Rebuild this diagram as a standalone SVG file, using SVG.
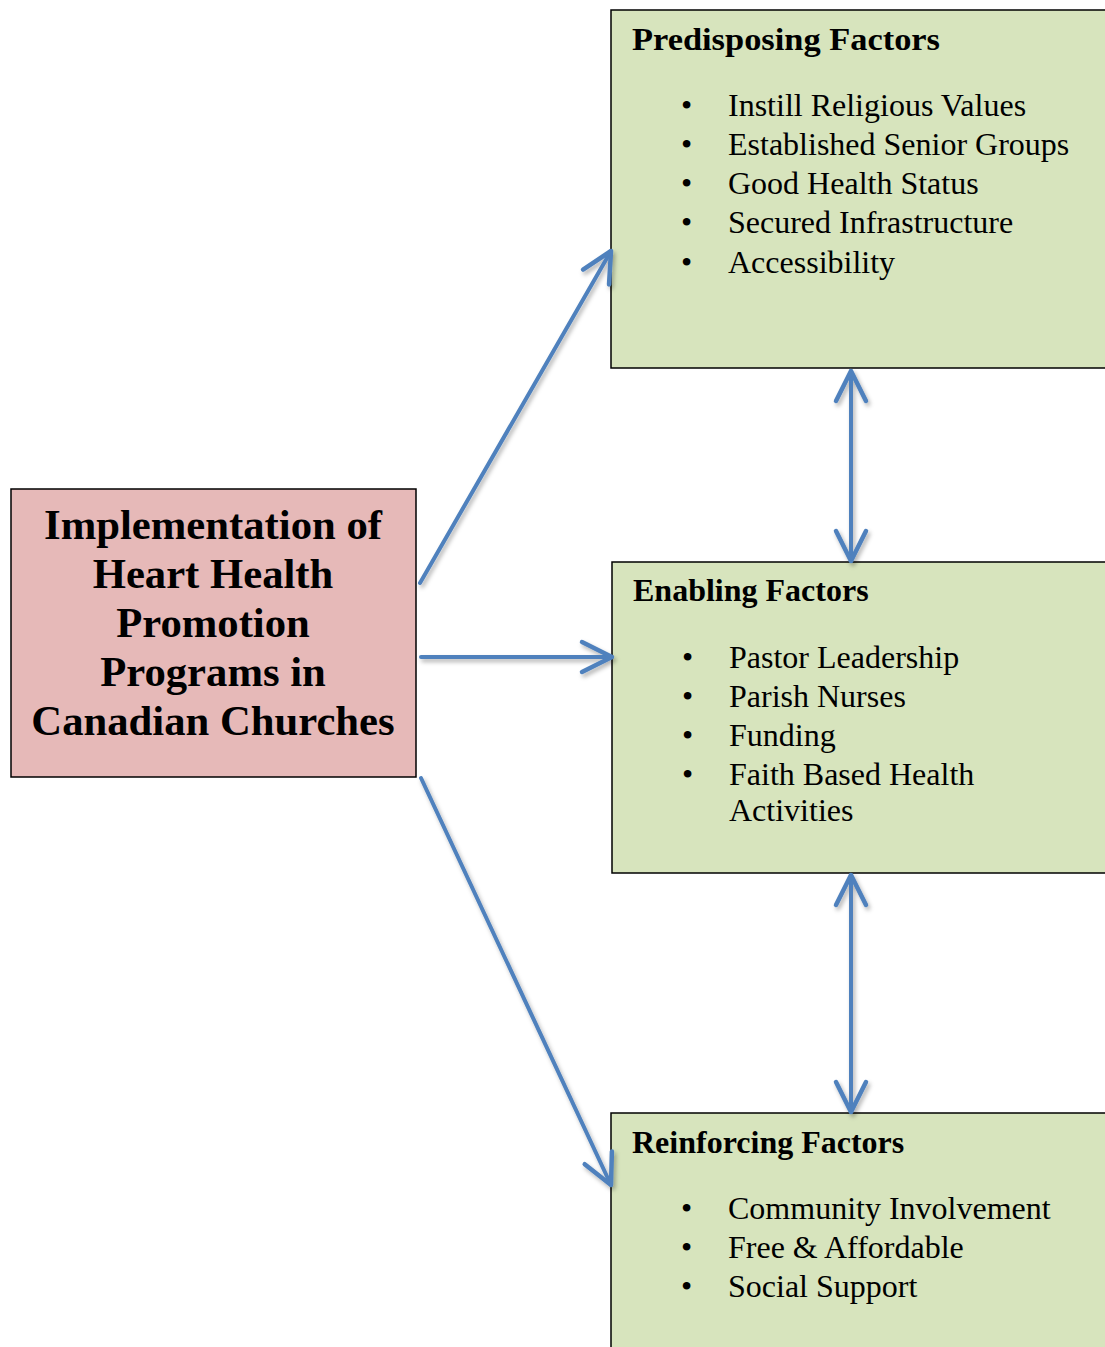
<svg xmlns="http://www.w3.org/2000/svg" width="1105" height="1347" viewBox="0 0 1105 1347">
<style>
.box{fill:#D7E4BD;stroke:#000;stroke-width:1.5}
.main{fill:#E6B9B8;stroke:#000;stroke-width:1.5}
.t{font-family:"Liberation Serif","DejaVu Serif",serif;font-size:32px;fill:#000}
.h{font-weight:bold}
.m{font-family:"Liberation Serif",serif;font-weight:bold;font-size:42.7px;text-anchor:middle}
.c{fill:none;stroke:#4F81BD;stroke-width:4;stroke-linecap:round;stroke-linejoin:round}
</style>
<defs>
<marker id="ah" markerUnits="userSpaceOnUse" markerWidth="40" markerHeight="40" viewBox="-34 -20 40 40" refX="0" refY="0" orient="auto-start-reverse">
<path d="M-30,-15 L0,0 L-30,15" fill="none" stroke="#4F81BD" stroke-width="4.5" stroke-linecap="round" stroke-linejoin="round"/>
</marker>
<filter id="sh" x="-20%" y="-20%" width="140%" height="140%">
<feDropShadow dx="2" dy="3" stdDeviation="2" flood-color="#000" flood-opacity="0.3"/>
</filter>
</defs>
<g id="main">
<rect class="main" x="11" y="489" width="405" height="288"/>
<text class="m" x="213" y="539">Implementation of</text>
<text class="m" x="213" y="588">Heart Health</text>
<text class="m" x="213" y="637">Promotion</text>
<text class="m" x="213" y="686">Programs in</text>
<text class="m" x="213" y="735">Canadian Churches</text>
</g>
<g id="predisposing">
<rect class="box" x="611" y="10" width="500" height="358"/>
<text class="t h" x="632" y="50" textLength="308" lengthAdjust="spacingAndGlyphs">Predisposing Factors</text>
<text class="t" x="681" y="116">•</text><text class="t" x="728" y="116">Instill Religious Values</text>
<text class="t" x="681" y="155">•</text><text class="t" x="728" y="155">Established Senior Groups</text>
<text class="t" x="681" y="194">•</text><text class="t" x="728" y="194">Good Health Status</text>
<text class="t" x="681" y="233">•</text><text class="t" x="728" y="233">Secured Infrastructure</text>
<text class="t" x="681" y="273">•</text><text class="t" x="728" y="273">Accessibility</text>
</g>
<g id="enabling">
<rect class="box" x="612" y="562" width="500" height="311"/>
<text class="t h" x="633" y="601">Enabling Factors</text>
<text class="t" x="682" y="668">•</text><text class="t" x="729" y="668">Pastor Leadership</text>
<text class="t" x="682" y="707">•</text><text class="t" x="729" y="707">Parish Nurses</text>
<text class="t" x="682" y="746">•</text><text class="t" x="729" y="746">Funding</text>
<text class="t" x="682" y="785">•</text><text class="t" x="729" y="785">Faith Based Health</text>
<text class="t" x="729" y="821">Activities</text>
</g>
<g id="reinforcing">
<rect class="box" x="611" y="1113" width="500" height="250"/>
<text class="t h" x="632" y="1153">Reinforcing Factors</text>
<text class="t" x="681" y="1219">•</text><text class="t" x="728" y="1219">Community Involvement</text>
<text class="t" x="681" y="1258">•</text><text class="t" x="728" y="1258">Free &amp; Affordable</text>
<text class="t" x="681" y="1297">•</text><text class="t" x="728" y="1297">Social Support</text>
</g>
<g id="connectors" filter="url(#sh)">
<line class="c" x1="420" y1="583" x2="611" y2="251" marker-end="url(#ah)"/>
<line class="c" x1="421" y1="657" x2="612" y2="657" marker-end="url(#ah)"/>
<line class="c" x1="421" y1="778" x2="611" y2="1185" marker-end="url(#ah)"/>
<line class="c" x1="851" y1="371" x2="851" y2="561" marker-start="url(#ah)" marker-end="url(#ah)"/>
<line class="c" x1="851" y1="875" x2="851" y2="1112" marker-start="url(#ah)" marker-end="url(#ah)"/>
</g>
</svg>
